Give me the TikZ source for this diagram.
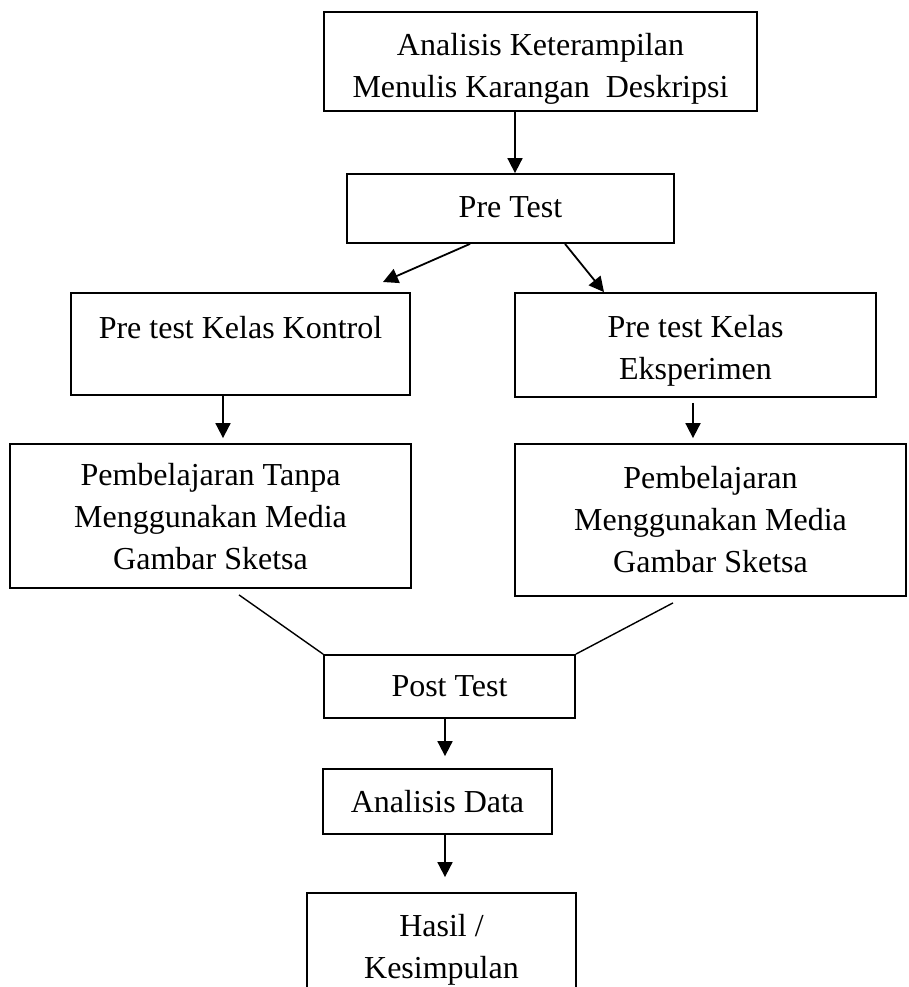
\documentclass[tikz,border=0pt]{standalone}
\usepackage{fontspec}
\setmainfont{Liberation Serif}
\usetikzlibrary{arrows.meta}
\newcommand\shifttext[2]{\raisebox{-#1}[\height][\depth]{\begin{tabular}{@{}c@{}}#2\end{tabular}}}
\tikzset{
  box/.style={draw, line width=1.8pt, rectangle, inner sep=0pt, align=center,
    font=\fontsize{32}{42}\selectfont},
  arr/.style={line width=1.8pt, -{Triangle[width=15pt,length=15pt]}},
  ln/.style={line width=1.4pt}
}
\begin{document}
\begin{tikzpicture}[x=1pt,y=-1pt]
\clip (0,0) rectangle (908,987);
\fill[white] (0,0) rectangle (908,987);
\node[box, minimum width=433pt, minimum height=99pt] (A) at (540.5,61.5)
  {\shifttext{7pt}{Analisis Keterampilan\\Menulis Karangan\ \ Deskripsi}};
\node[box, minimum width=327pt, minimum height=69pt] (P) at (510.5,208.5)
  {\shifttext{1pt}{Pre Test}};
\node[box, minimum width=339pt, minimum height=102pt] (K) at (240.5,344)
  {\shifttext{7pt}{Pre test Kelas Kontrol\\\strut}};
\node[box, minimum width=361pt, minimum height=104pt] (E) at (695.5,345)
  {\shifttext{5pt}{Pre test Kelas\\Eksperimen}};
\node[box, minimum width=401pt, minimum height=144pt] (T) at (210.5,516)
  {\shifttext{3pt}{Pembelajaran Tanpa\\Menggunakan Media\\Gambar Sketsa}};
\node[box, minimum width=391pt, minimum height=152pt] (M) at (710.5,520)
  {Pembelajaran\\Menggunakan Media\\Gambar Sketsa};
\node[box, minimum width=251pt, minimum height=63pt] (Q) at (449.5,686.5) {Post Test};
\node[box, minimum width=229pt, minimum height=65pt] (D) at (437.5,801.5) {Analisis Data};
\node[box, minimum width=269pt, minimum height=120pt] (H) at (441.5,953)
  {\shifttext{-4pt}{Hasil /\\Kesimpulan}};
\coordinate (kt) at (383,282);
\draw[arr] (A.south -| 515,0) -- (P.north -| 515,0);
\draw[arr] (P.south -| 470,0) -- (kt);
\draw[arr] (P.south -| 565,0) -- (E.north -| 604,0);
\draw[arr] (K.south -| 223,0) -- ([yshift=5pt]T.north -| 223,0);
\draw[arr] ([yshift=-5pt]E.south -| 693,0) -- ([yshift=5pt]M.north -| 693,0);
\draw[ln] ([yshift=-6pt]T.south -| 239,0) -- (Q.north west);
\draw[ln] ([yshift=-6pt]M.south -| 673,0) -- (Q.north east);
\draw[arr] (Q.south -| 445,0) -- ([yshift=12pt]D.north -| 445,0);
\draw[arr] (D.south -| 445,0) -- ([yshift=15pt]H.north -| 445,0);
\end{tikzpicture}
\end{document}
